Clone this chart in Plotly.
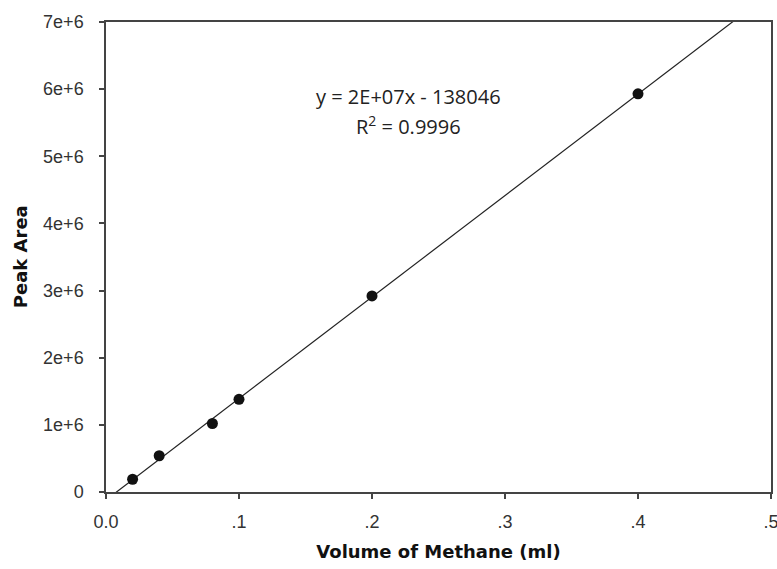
import numpy as np
import plotly.graph_objects as go

# Data
volume_ml = [0.02, 0.04, 0.08, 0.10, 0.20, 0.40]
peak_area = [190000, 540000, 1020000, 1380000, 2920000, 5930000]

x_tick_vals = [0.0, 0.1, 0.2, 0.3, 0.4, 0.5]
x_tick_text = ["0.0", ".1", ".2", ".3", ".4", ".5"]
y_tick_vals = [0, 1e6, 2e6, 3e6, 4e6, 5e6, 6e6, 7e6]
y_tick_text = ["0", "1e+6", "2e+6", "3e+6", "4e+6", "5e+6", "6e+6", "7e+6"]

x_title = "Volume of Methane (ml)"
y_title = "Peak Area"
equation_text = "y = 2E+07x - 138046"
r2_text = "R<sup>2</sup> = 0.9996"

# Linear trend line fit to the data
slope, intercept = np.polyfit(volume_ml, peak_area, 1)
line_x = [0.0, 0.5]
line_y = [intercept + slope * v for v in line_x]

fig = go.Figure()
fig.add_trace(go.Scatter(x=line_x, y=line_y, mode="lines",
                         line=dict(color="#222222", width=1.2),
                         showlegend=False, hoverinfo="skip"))
fig.add_trace(go.Scatter(x=volume_ml, y=peak_area, mode="markers",
                         marker=dict(color="#111111", size=11),
                         showlegend=False, cliponaxis=False))

axis_font = dict(family="Liberation Sans, Arial", size=18, color="#333333")
title_font = dict(family="DejaVu Sans", size=18, color="#111111")

fig.update_xaxes(range=[0, 0.5], tickvals=x_tick_vals, ticktext=x_tick_text,
                 showgrid=False, zeroline=False, showline=True,
                 linecolor="#444444", linewidth=1.5, mirror=True,
                 ticks="outside", ticklen=5, tickcolor="#444444", tickwidth=1.5,
                 tickfont=axis_font, ticklabelstandoff=8, automargin=False,
                 ticklabeloverflow="allow",
                 title=dict(text="<b>" + x_title + "</b>", font=title_font, standoff=14))
fig.update_yaxes(range=[0, 7e6], tickvals=y_tick_vals, ticktext=y_tick_text,
                 showgrid=False, zeroline=False, showline=True,
                 linecolor="#444444", linewidth=1.5, mirror=True,
                 ticks="outside", ticklen=5, tickcolor="#444444", tickwidth=1.5,
                 tickfont=axis_font, ticklabelstandoff=12, automargin=False,
                 ticklabeloverflow="allow")

fig.add_annotation(x=-0.129, y=0.5, xref="paper", yref="paper",
                   text="<b>" + y_title + "</b>", textangle=-90, showarrow=False,
                   font=title_font, xanchor="center", yanchor="middle")

eq_font = dict(family="Open Sans, Liberation Sans", size=20, color="#222222")
fig.add_annotation(x=0.455, y=0.842, xref="paper", yref="paper", text=equation_text,
                   showarrow=False, font=eq_font, xanchor="center", yanchor="middle")
fig.add_annotation(x=0.455, y=0.78, xref="paper", yref="paper", text=r2_text,
                   showarrow=False, font=eq_font, xanchor="center", yanchor="middle")

fig.update_layout(width=777, height=569,
                  margin=dict(l=106, r=6, t=22, b=77),
                  paper_bgcolor="white", plot_bgcolor="white")

# Remove the page's default body margin so the figure fills the window exactly
fig.write_html("out.html", config={"displayModeBar": False},
               post_script="document.body.style.margin='0';document.body.style.overflow='hidden';")
